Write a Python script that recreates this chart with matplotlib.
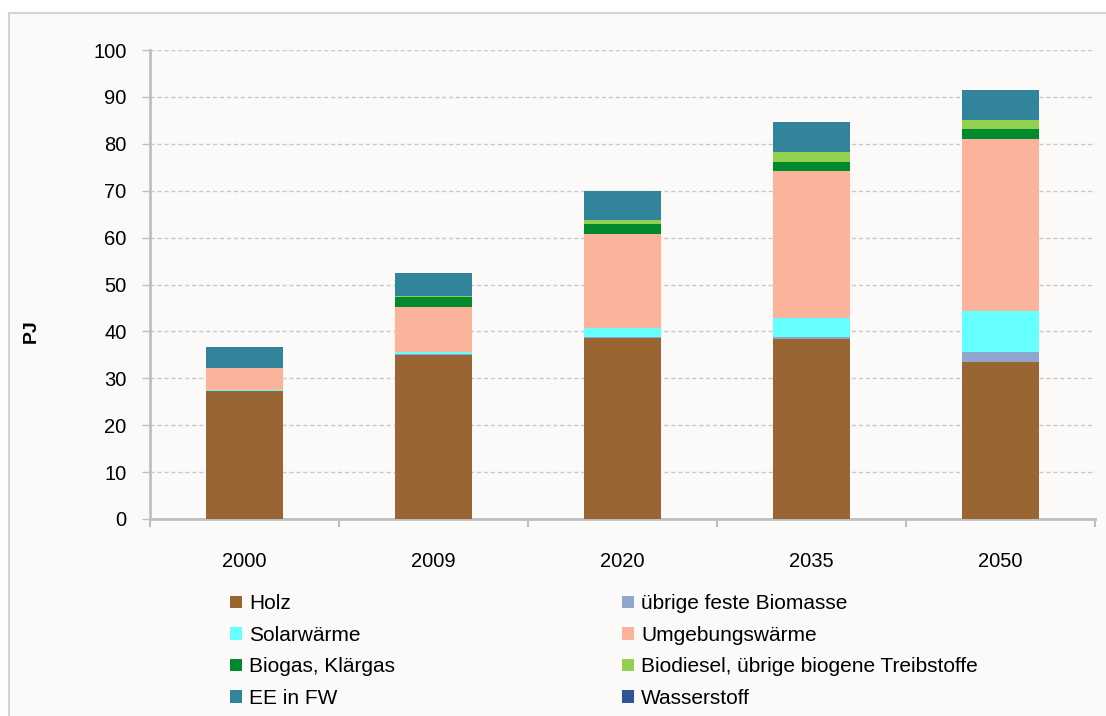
import matplotlib.pyplot as plt
from matplotlib.patches import Rectangle, Patch

# Data (PJ)
years = ['2000', '2009', '2020', '2035', '2050']
holz = [27.2, 35.0, 38.5, 38.3, 33.4]
uebrige_biomasse = [0.1, 0.1, 0.2, 0.6, 2.3]
solar = [0.3, 0.6, 2.1, 4.0, 8.6]
umgebung = [4.7, 9.4, 20.0, 31.4, 36.7]
biogas = [0.0, 2.3, 2.2, 1.9, 2.1]
biodiesel = [0.0, 0.2, 0.8, 2.1, 2.0]
ee_fw = [4.3, 4.8, 6.2, 6.4, 6.4]
wasserstoff = [0.0, 0.0, 0.0, 0.0, 0.0]

series = [
    ('Holz', holz, '#996633'),
    ('übrige feste Biomasse', uebrige_biomasse, '#8FA6CF'),
    ('Solarwärme', solar, '#66FFFF'),
    ('Umgebungswärme', umgebung, '#FBB39B'),
    ('Biogas, Klärgas', biogas, '#00892D'),
    ('Biodiesel, übrige biogene Treibstoffe', biodiesel, '#92D050'),
    ('EE in FW', ee_fw, '#31849B'),
    ('Wasserstoff', wasserstoff, '#2F5597'),
]

plt.rcParams['font.family'] = ['Liberation Sans', 'DejaVu Sans']
bg = '#FBFAF9'
grey = '#BFBFBF'

fig = plt.figure(figsize=(11.06, 7.16), dpi=100, facecolor='white')
# chart area frame (light grey border, cut off on right/bottom)
fig.patches.append(Rectangle((9 / 1106, -0.01), 1.0, 1 - 13 / 716 + 0.01,
                             transform=fig.transFigure, facecolor=bg,
                             edgecolor='#D4D4D4', linewidth=1.5, zorder=-1))

ax = fig.add_axes([150 / 1106, 1 - 519 / 716, 945 / 1106, 469 / 716])
ax.set_facecolor(bg)

x = list(range(len(years)))
bottom = [0.0] * len(years)
for name, vals, col in series:
    ax.bar(x, vals, width=0.41, bottom=bottom, color=col, edgecolor='none', zorder=3)
    bottom = [b + v for b, v in zip(bottom, vals)]

ax.set_xlim(-0.5, len(years) - 0.5)
ax.set_ylim(0, 100)
ax.set_yticks(range(0, 101, 10))
ax.set_xticks(x)
ax.set_xticklabels(years)
ax.set_xticks([i + 0.5 for i in range(-1, len(years))], minor=True)

ax.yaxis.grid(True, linestyle=(0, (3, 2)), color='#C8C8C8', linewidth=1, zorder=0)
for s in ['top', 'right']:
    ax.spines[s].set_visible(False)
for s in ['left', 'bottom']:
    ax.spines[s].set_color(grey)
    ax.spines[s].set_linewidth(2)

ax.tick_params(axis='y', length=6, color=grey, width=1, pad=11, labelsize=14.5)
ax.tick_params(axis='x', which='major', length=0, pad=24, labelsize=14.5)
ax.tick_params(axis='x', which='minor', length=6, color=grey, width=1.5)

ax.set_ylabel('PJ', fontsize=14, fontweight='bold')
ax.yaxis.set_label_coords(-0.117, 0.40)

handles = [Patch(facecolor=c, edgecolor='none', label=n) for n, v, c in series]
leg_kw = dict(frameon=False, fontsize=15, handlelength=0.55, handleheight=0.55,
              handletextpad=0.35, labelspacing=0.6, borderpad=0, loc='upper left')
leg1 = fig.legend(handles=handles[0::2], bbox_to_anchor=(220 / 1106, 1 - 584 / 716), **leg_kw)
leg2 = fig.legend(handles=handles[1::2], bbox_to_anchor=(612 / 1106, 1 - 584 / 716), **leg_kw)

fig.savefig('out.png', dpi=100, facecolor=fig.get_facecolor())
